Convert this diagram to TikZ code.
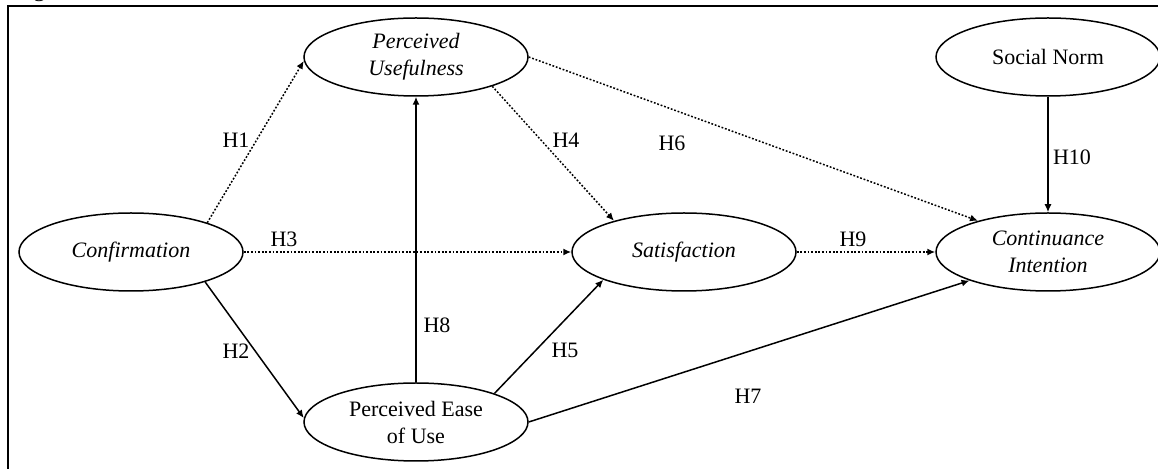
\documentclass[tikz,border=0pt]{standalone}
\usepackage{fontspec}
\setmainfont{Liberation Serif}
\usetikzlibrary{shapes.geometric,arrows.meta}
\begin{document}
\begin{tikzpicture}[x=0.5pt,y=-0.5pt,
  construct/.style={ellipse, draw, line width=0.75pt, minimum width=112pt,
    minimum height=39pt, inner sep=0pt, align=center,
    font=\fontsize{11}{13.5}\selectfont},
  path/.style={line width=0.75pt, -{Latex[length=4pt,width=3.5pt]}},
  weak/.style={path, dash pattern=on 0.9pt off 0.9pt},
  hyp/.style={font=\fontsize{11}{13}\selectfont, inner sep=0pt}]
  \useasboundingbox (0,0) rectangle (1158,469);
  % frame and caption (caption sits above the page edge)
  \draw[line width=1pt] (8,469) -- (8,6) -- (1160,6);
  \node[anchor=base west, font=\fontsize{12}{14}\selectfont, inner sep=0pt] (cap) at (13,-3.5) {Figure};
  % constructs
  \node[construct] (pu)   at (416,57)  {\itshape Perceived\\\itshape Usefulness};
  \node[construct] (sn)   at (1048,57) {Social Norm};
  \node[construct] (conf) at (131,252) {\itshape Confirmation};
  \node[construct] (sat)  at (684,252) {\itshape Satisfaction};
  \node[construct] (ci)   at (1048,252) {\itshape Continuance\\\itshape Intention};
  \node[construct] (peou) at (416,422) {Perceived Ease\\of Use};
  % hypothesised paths
  \draw[weak] (conf.21)  -- (pu.182);
  \draw[path] (conf.-22) -- (peou.178);
  \draw[weak] (conf.east) -- (sat.west);
  \draw[weak] (pu.-21)   -- (sat.156);
  \draw[path] (peou.20)  -- (sat.199);
  \draw[weak] (pu.east)  -- (ci.156);
  \draw[path] (peou.east) -- (ci.200);
  \draw[path] (peou.north) -- (pu.south);
  \draw[weak] (sat.east) -- (ci.west);
  \draw[path] (sn.south) -- (ci.north);
  % path labels
  \node[hyp] (h1)  at (236,140) {H1};
  \node[hyp] (h2)  at (236,351) {H2};
  \node[hyp] (h3)  at (284,239) {H3};
  \node[hyp] (h4)  at (566,140) {H4};
  \node[hyp] (h5)  at (565,350) {H5};
  \node[hyp] (h6)  at (672,143) {H6};
  \node[hyp] (h7)  at (748,396) {H7};
  \node[hyp] (h8)  at (437,325) {H8};
  \node[hyp] (h9)  at (853,239) {H9};
  \node[hyp] (h10) at (1072,157) {H10};
\end{tikzpicture}
\end{document}
